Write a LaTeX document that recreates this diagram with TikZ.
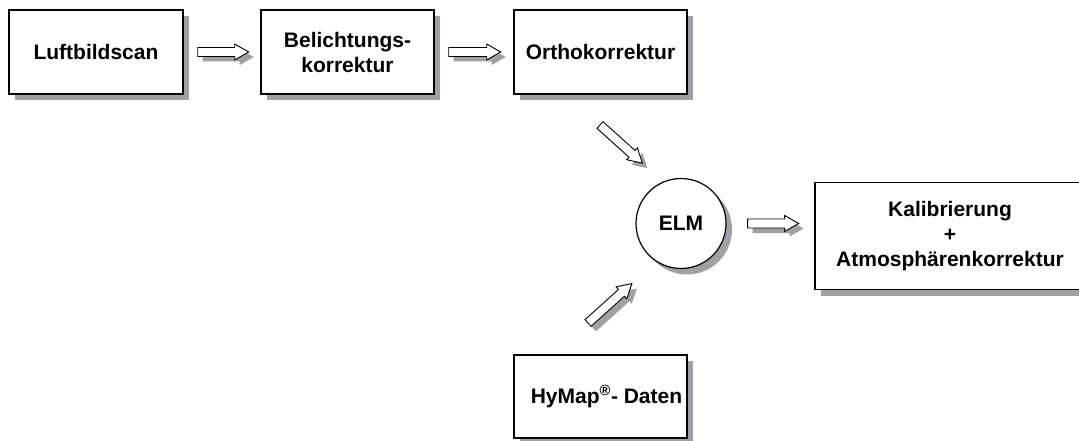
\documentclass[tikz,border=0pt]{standalone}
\usepackage{fontspec}
\setmainfont{Liberation Sans}
\usetikzlibrary{shadows,calc}
\definecolor{shadowc}{RGB}{160,160,166}
\tikzset{
  boxshadow/.style={drop shadow={shadow xshift=6pt,shadow yshift=-6pt,fill=shadowc,opacity=1}},
  procbox/.style={draw, line width=1.4pt, fill=white, boxshadow,
    font=\fontsize{21}{25}\selectfont\bfseries, align=center, inner sep=0pt},
  arrowbody/.style={fill=white, draw=black, line width=0.9pt, line join=miter},
  arrowshadow/.style={fill=shadowc},
}
% #1 start coordinate, #2 angle, #3 length
\newcommand\blockarrow[3]{%
  \begin{scope}[shift={(#1)}, shift={(5pt,-5pt)}, rotate=#2]
    \fill[arrowshadow] (0,-4.5) -- ({#3-14},-4.5) -- ({#3-14},-8) -- (#3,0) -- ({#3-14},8) -- ({#3-14},4.5) -- (0,4.5) -- cycle;
  \end{scope}
  \begin{scope}[shift={(#1)}, rotate=#2]
    \filldraw[arrowbody] (0,-4.5) -- ({#3-14},-4.5) -- ({#3-14},-8) -- (#3,0) -- ({#3-14},8) -- ({#3-14},4.5) -- (0,4.5) -- cycle;
  \end{scope}}
\begin{document}
\begin{tikzpicture}[x=1pt,y=-1pt]
\path[use as bounding box] (0,0) rectangle (1079,441);
\begin{scope}
\clip (0,0) rectangle (1079,441);
\node[procbox, minimum width=174pt, minimum height=84pt] (luft) at (96,52) {Luftbildscan};
\node[procbox, minimum width=173pt, minimum height=84pt] (belicht) at (347.5,52) {Belichtungs-\\korrektur};
\node[procbox, minimum width=173pt, minimum height=84pt] (ortho) at (600.5,52) {Orthokorrektur};
\node[procbox, circle, line width=1.2pt, minimum size=90pt] (elm) at (681,223.5) {ELM};
\node[procbox, minimum width=270pt, minimum height=107pt] (kal) at (950,236) {Kalibrierung\\+\\Atmosphärenkorrektur};
\node[procbox, minimum width=173pt, minimum height=83pt] (hymap) at (600.5,396.5) {\hspace*{12pt}HyMap\textsuperscript{®}- Daten};
\end{scope}
\coordinate (a1) at ($(luft.east)+(14,0)$);
\coordinate (a2) at ($(belicht.east)+(14,0)$);
\coordinate (a3) at (600,125);
\coordinate (a4) at ($(elm.east)+(21,0)$);
\coordinate (a5) at (588,323);
\blockarrow{a1}{0}{51}
\blockarrow{a2}{0}{52}
\blockarrow{a3}{-42}{57}
\blockarrow{a4}{0}{51}
\blockarrow{a5}{42}{59}
\end{tikzpicture}
\end{document}
